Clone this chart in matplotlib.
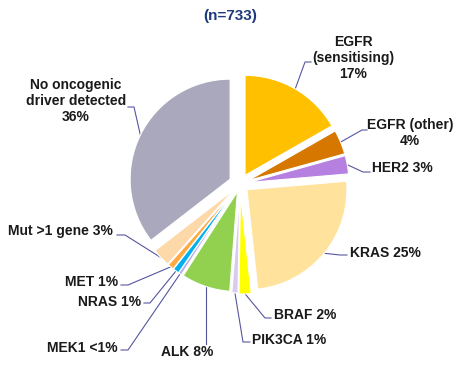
import numpy as np
import matplotlib.pyplot as plt

# slices, clockwise from 12 o'clock
labels = ["EGFR\n(sensitising)\n17%", "EGFR (other)\n4%", "HER2 3%", "KRAS 25%",
          "BRAF 2%", "PIK3CA 1%", "ALK 8%", "MEK1 <1%", "NRAS 1%", "MET 1%",
          "Mut >1 gene 3%", "No oncogenic\ndriver detected\n36%"]
values = [17, 4, 3, 25, 2, 1, 8, 0.5, 1, 1, 3, 36]
colors = ["#FFC000", "#D67800", "#B580E0", "#FFE29B", "#FFFF00", "#D8CBEE",
          "#92D050", "#B3A9E6", "#00B0F0", "#FFA940", "#FDD9AA", "#A9A8BD"]
explode_px = [10, 9, 9, 9, 10, 9, 8, 8, 8, 8, 8, 11]

# label placement in pixels (x, y from top), alignment and leader elbow
lab_pos = [(353, 58), (410, 133), (372, 168), (350, 253), (274, 315), (252, 340),
           (187, 352), (118, 348), (141, 302), (118, 282), (113, 231), (76, 101)]
lab_ha = ["center", "center", "left", "left", "left", "left",
          "center", "right", "right", "right", "right", "center"]
elbow = [(305, 62), (362, 130), (363, 172), (340, 255), (265, 318), (243, 342),
         None, (128, 350), (150, 303), (128, 285), (125, 235), (134, 107)]
line_end = [(311, 62), (367, 130), (370, 172), (347, 255), (271, 318), (250, 342),
            (203, 344), (121, 350), (144, 303), (121, 285), (117, 235), (128, 107)]

W, H = 466, 369
cx, cy, R = 240, 185, 100
line_col = "#5656A0"

plt.rcParams['font.family'] = ['Liberation Sans', 'DejaVu Sans']

fig = plt.figure(figsize=(W / 100, H / 100), dpi=100)
ax = fig.add_axes([0, 0, 1, 1])

wedges, _ = ax.pie(values, colors=colors, explode=explode_px,
                   startangle=90, counterclock=False, radius=R, center=(cx, cy),
                   wedgeprops=dict(edgecolor="white", linewidth=0.8))
ax.set_xlim(0, W)
ax.set_ylim(0, H)
ax.set_aspect("equal")
ax.axis("off")

for i, w in enumerate(wedges):
    ang = np.deg2rad((w.theta1 + w.theta2) / 2)
    ax_x = w.center[0] + w.r * np.cos(ang)
    ax_y = w.center[1] + w.r * np.sin(ang)
    if elbow[i] is None:
        xs = [ax_x, ax_x]
        ys = [ax_y, H - line_end[i][1]]
    else:
        xs = [ax_x, elbow[i][0], line_end[i][0]]
        ys = [ax_y, H - elbow[i][1], H - line_end[i][1]]
    ax.plot(xs, ys, color=line_col, lw=0.8, zorder=0)
    tx, ty = lab_pos[i]
    ax.text(tx, H - ty, labels[i], ha=lab_ha[i], va="center", fontsize=10,
            fontweight="bold", color="#1A1A1A", multialignment="center",
            linespacing=1.15)

ax.text(230, H - 16, "(n=733)", ha="center", va="center", fontsize=11,
        fontweight="bold", color="#1F3A7A")

fig.savefig("out.png", dpi=100)
